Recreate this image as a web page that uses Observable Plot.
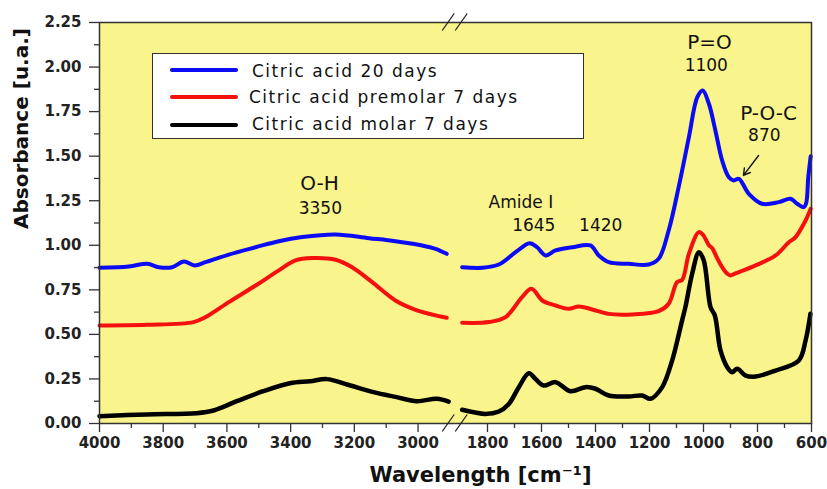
<!DOCTYPE html>
<html>
<head>
<meta charset="utf-8">
<script src="https://cdn.jsdelivr.net/npm/d3@7"></script>
<script src="https://cdn.jsdelivr.net/npm/@observablehq/plot@0.6"></script>
<style>
  body { margin: 0; background: #fff; }
  #wrap { position: relative; width: 827px; height: 489px; overflow: hidden; }
  #legend { position: absolute; left: 152px; top: 53px; width: 430px; height: 84px; background: #fff;
            border: 1px solid #333; font-family: "DejaVu Sans"; font-size: 17px; letter-spacing: 1.5px; color: #111; }
  .sw { position: absolute; left: 17px; width: 68px; height: 4px; border-radius: 2px; }
  .lab { position: absolute; left: 99px; white-space: nowrap; line-height: 20px; height: 20px; }
  g[aria-label="big-annot"] text { letter-spacing: 0.3em; }
  g[aria-label="num-annot"] text { letter-spacing: 0.2em; }
  g[aria-label="amide-annot"] text { letter-spacing: 0.12em; }
</style>
</head>
<body>
<div id="wrap"></div>
<script>
// ---- data (wavenumber cm-1, absorbance) ----
const seriesNames = ["Citric acid 20 days", "Citric acid premolar 7 days", "Citric acid molar 7 days"];
const seriesColors = ["#0b0bf5", "#f51010", "#000000"];

const blueLeft = [[4000,0.874],[3908,0.881],[3850,0.896],[3814,0.877],[3772,0.877],[3735,0.909],[3701,0.887],
  [3667,0.905],[3594,0.948],[3510,0.989],[3437,1.023],[3364,1.046],[3259,1.061],[3154,1.040],[3071,1.023],
  [2987,0.999],[2945,0.980],[2910,0.952]];
const blueRight = [[1894,0.877],[1820,0.874],[1758,0.892],[1696,0.961],[1644,1.012],[1616,0.989],[1585,0.943],
  [1548,0.971],[1486,0.989],[1419,0.999],[1388,0.943],[1351,0.905],[1277,0.896],[1203,0.892],[1166,0.924],
  [1129,1.083],[1092,1.326],[1054,1.607],[1023,1.831],[1003,1.869],[980,1.794],[956,1.644],[931,1.476],
  [906,1.382],[888,1.364],[869,1.373],[832,1.289],[783,1.233],[721,1.242],[678,1.261],[653,1.233],
  [629,1.214],[620,1.235],[612,1.38],[603,1.50]];

const redLeft = [[4000,0.550],[3852,0.554],[3705,0.569],[3667,0.597],[3594,0.681],[3510,0.774],[3437,0.859],
  [3385,0.915],[3332,0.928],[3259,0.919],[3207,0.877],[3144,0.793],[3071,0.690],[3008,0.638],[2910,0.593]];
const redRight = [[1894,0.565],[1795,0.569],[1733,0.597],[1672,0.709],[1637,0.756],[1597,0.690],[1548,0.662],
  [1499,0.644],[1462,0.657],[1412,0.640],[1351,0.615],[1264,0.612],[1166,0.630],[1129,0.672],[1098,0.793],
  [1079,0.806],[1054,0.952],[1017,1.074],[1000,1.055],[980,1.000],[968,0.985],[950,0.930],[931,0.877],
  [912,0.840],[900,0.831],[885,0.840],[869,0.849],[807,0.887],[733,0.943],[684,1.017],[659,1.046],
  [622,1.139],[603,1.205]];

const blackLeft = [[4000,0.041],[3852,0.051],[3695,0.058],[3642,0.073],[3569,0.125],[3486,0.181],[3402,0.226],
  [3339,0.237],[3286,0.249],[3223,0.219],[3140,0.176],[3067,0.148],[3004,0.125],[2941,0.139],[2904,0.123]];
const blackRight = [[1894,0.077],[1807,0.054],[1758,0.067],[1721,0.110],[1684,0.204],[1647,0.282],[1623,0.251],
  [1592,0.213],[1548,0.232],[1493,0.181],[1437,0.204],[1400,0.195],[1351,0.157],[1277,0.152],[1227,0.157],
  [1196,0.139],[1153,0.204],[1116,0.354],[1091,0.503],[1079,0.580],[1067,0.653],[1042,0.840],[1017,0.961],
  [999,0.915],[974,0.653],[958,0.606],[937,0.410],[912,0.316],[894,0.288],[875,0.307],[844,0.269],
  [807,0.264],[733,0.297],[647,0.354],[622,0.466],[604,0.616]];

// axis ticks
const xBreak = [2900, 1900];
const xMajor = [4000,3800,3600,3400,3200,3000,1800,1600,1400,1200,1000,800,600];
const xMinor = [3900,3700,3500,3300,3100,1700,1500,1300,1100,900,700];
const yMajor = [0,0.25,0.5,0.75,1,1.25,1.5,1.75,2,2.25];
const yMinor = [0.125,0.375,0.625,0.875,1.125,1.375,1.625,1.875,2.125];

// annotations
const bigLabels = ["O-H","P=O","P-O-C"];
const bigX = [3319, 989, 770];
const bigY = [1.344, 2.135, 1.737];
const numLabels = ["3350","1100","870","1645","1420"];
const numX = [3312, 996, 781, 1635, 1387];
const numY = [1.207, 2.009, 1.613, 1.108, 1.108];
const amideLabel = ["Amide I"];
const amideX = [1680];
const amideY = [1.240];
const arrowFrom = [796, 1.504];
const arrowTo = [852, 1.392];

// ---- build ----
const lefts = [blueLeft, redLeft, blackLeft];
const rights = [blueRight, redRight, blackRight];
const rows = [];
seriesNames.forEach((name, i) => {
  lefts[i].forEach(([w, a]) => rows.push({name, seg: name + "L", w, a}));
  rights[i].forEach(([w, a]) => rows.push({name, seg: name + "R", w, a}));
});
const ann = (labels, xs, ys) => labels.map((t, i) => ({t, x: xs[i], y: ys[i]}));

function breakMarks(index, {x, y}) {
  const g = d3.create("svg:g").attr("stroke", "#222").attr("stroke-width", 1.3).attr("fill", "none");
  const xm = (x(xBreak[0]) + x(xBreak[1])) / 2;
  for (const yy of [y(0), y(2.25)]) {
    for (const off of [-6.5, 6.5]) {
      g.append("line").attr("x1", xm + off - 6).attr("y1", yy + 8.5)
        .attr("x2", xm + off + 6).attr("y2", yy - 8.5);
    }
  }
  return g.node();
}

const yellow = "#faf48c";
const chart = Plot.plot({
  width: 827, height: 489,
  marginLeft: 99, marginRight: 16, marginTop: 22, marginBottom: 66,
  style: {fontFamily: "DejaVu Sans", color: "#222", background: "white", overflow: "visible"},
  x: {type: "linear", domain: [4000, xBreak[0], xBreak[1], 600], range: [99, 449.4, 460, 811], axis: null},
  y: {domain: [0, 2.25], axis: null},
  marks: [
    Plot.frame({fill: yellow, stroke: "none"}),
    ...seriesNames.map((name, i) => Plot.line(rows.filter(r => r.name === name), {
      x: "w", y: "a", z: "seg", stroke: seriesColors[i], strokeWidth: i === 2 ? 4.5 : 4,
      curve: "catmull-rom", strokeLinejoin: "round", strokeLinecap: "round"
    })),
    Plot.frame({stroke: "#333", strokeWidth: 1.5}),
    breakMarks,
    Plot.axisY({ticks: yMajor, tickFormat: d => d.toFixed(2), tickSize: 10, tickPadding: 8,
      fontSize: 15, fontWeight: "bold", stroke: "#333", strokeWidth: 1.3, label: null}),
    Plot.axisY({ticks: yMinor, tickFormat: () => "", tickSize: 5, stroke: "#333", strokeWidth: 1.3, label: null}),
    Plot.axisX({ticks: xMajor, tickFormat: d => String(d), tickSize: 9, tickPadding: 5,
      fontSize: 15, fontWeight: "bold", stroke: "#333", strokeWidth: 1.3, label: null}),
    Plot.axisX({ticks: xMinor, tickFormat: () => "", tickSize: 5, stroke: "#333", strokeWidth: 1.3, label: null}),
    Plot.text(ann(bigLabels, bigX, bigY), {x: "x", y: "y", text: "t", fontSize: 20, fill: "#111",
      lineAnchor: "middle", dx: 3, ariaLabel: "big-annot"}),
    Plot.text(ann(numLabels, numX, numY), {x: "x", y: "y", text: "t", fontSize: 17, fill: "#111",
      lineAnchor: "middle", dx: 1.7, ariaLabel: "num-annot"}),
    Plot.text(ann(amideLabel, amideX, amideY), {x: "x", y: "y", text: "t", fontSize: 17, fill: "#111",
      lineAnchor: "middle", dx: 1, ariaLabel: "amide-annot"}),
    Plot.arrow([{x1: arrowFrom[0], y1: arrowFrom[1], x2: arrowTo[0], y2: arrowTo[1]}],
      {x1: "x1", y1: "y1", x2: "x2", y2: "y2", stroke: "#111", strokeWidth: 1.4, headLength: 8}),
    Plot.text(["Absorbance [u.a.]"], {frameAnchor: "left", rotate: -90, dx: -78, dy: 6,
      fontSize: 20, fontWeight: "bold", fill: "#111", lineAnchor: "middle"}),
    Plot.text(["Wavelength [cm⁻¹]"], {frameAnchor: "bottom", dx: 25, dy: 58,
      fontSize: 21, fontWeight: "bold", fill: "#111", lineAnchor: "bottom"})
  ]
});

const wrap = document.getElementById("wrap");
wrap.appendChild(chart);

// legend overlay
const legend = document.createElement("div");
legend.id = "legend";
const lineTops = [14, 41, 69];
const textTops = [7, 33, 60];
seriesNames.forEach((name, i) => {
  const sw = document.createElement("div");
  sw.className = "sw";
  sw.style.top = lineTops[i] + "px";
  sw.style.background = seriesColors[i];
  const lab = document.createElement("div");
  lab.className = "lab";
  lab.style.top = textTops[i] + "px";
  if (i === 1) lab.style.left = "96px";
  lab.textContent = name;
  legend.appendChild(sw);
  legend.appendChild(lab);
});
wrap.appendChild(legend);
</script>
</body>
</html>
